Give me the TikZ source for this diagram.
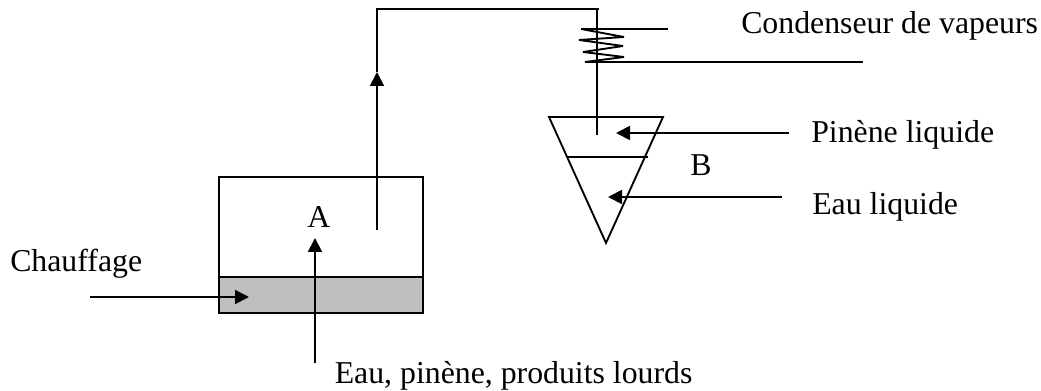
\documentclass[tikz,border=0pt]{standalone}
\usepackage{fontspec}
\setmainfont{Liberation Serif}
\usetikzlibrary{arrows.meta}
\tikzset{
  x=0.75pt,y=-0.75pt,
  line/.style={draw=black,line width=1.4pt,line join=miter},
  flow/.style={line,-{Triangle[length=10.5pt,width=10.5pt]}},
  lab/.style={inner sep=0pt,anchor=base west,font=\fontsize{23.85}{28}\selectfont}
}
\begin{document}
\begin{tikzpicture}
\useasboundingbox (0,0) rectangle (1041,391);
% tank
\coordinate (tl) at (219,177);
\coordinate (br) at (423,313);
\coordinate (gl) at (219,277);
\coordinate (gr) at (423,277);
\fill[fill=black!25] (gl) rectangle (br);
\draw[line] (tl) rectangle (br);
\draw[line] (gl) -- (gr);
% riser
\coordinate (riserB) at (377,230);
\coordinate (riserM) at (377,72);
\coordinate (riserC) at (377,9);
\coordinate (riserE) at (599,9);
\draw[flow] (riserB) -- (riserM);
\draw[line] (riserM) -- (riserC) -- (riserE);
% condenser
\coordinate (dropT) at (597,10);
\coordinate (dropB) at (597,135);
\draw[line] (dropT) -- (dropB);
\draw[line,miter limit=3] (581,29) -- (624,37) -- (579,40) -- (623,46) -- (583,52) -- (624,57) -- (585,62);
\coordinate (c1a) at (581,29); \coordinate (c1b) at (668,29);
\coordinate (c2a) at (585,62); \coordinate (c2b) at (863,62);
\draw[line] (c1a) -- (c1b);
\draw[line] (c2a) -- (c2b);
% funnel
\coordinate (fl) at (549,117);
\coordinate (fr) at (663,117);
\coordinate (ft) at (606,243);
\draw[line] (fl) -- (fr) -- (ft) -- cycle;
\coordinate (ll) at (568,157);
\coordinate (lr) at (648,157);
\draw[line] (ll) -- (lr);
% arrows
\coordinate (a1s) at (789,133); \coordinate (a1e) at (616,133);
\coordinate (a2s) at (782,197); \coordinate (a2e) at (608,197);
\coordinate (a3s) at (90,297); \coordinate (a3e) at (249,297);
\coordinate (a4s) at (315,363); \coordinate (a4e) at (315,238);
\draw[flow] (a1s) -- (a1e);
\draw[flow] (a2s) -- (a2e);
\draw[flow] (a3s) -- (a3e);
\draw[flow] (a4s) -- (a4e);
% labels
\node[lab] (tCond) at (741,34) {Condenseur de vapeurs};
\node[lab] (tPin) at (811,143) {Pinène liquide};
\node[lab] (tB) at (690,176) {B};
\node[lab] (tEau) at (812,215) {Eau liquide};
\node[lab] (tA) at (307,228) {A};
\node[lab] (tCh) at (10,272) {Chauffage};
\node[lab] (tMix) at (334.5,383) {Eau, pinène, produits lourds};
\end{tikzpicture}
\end{document}
